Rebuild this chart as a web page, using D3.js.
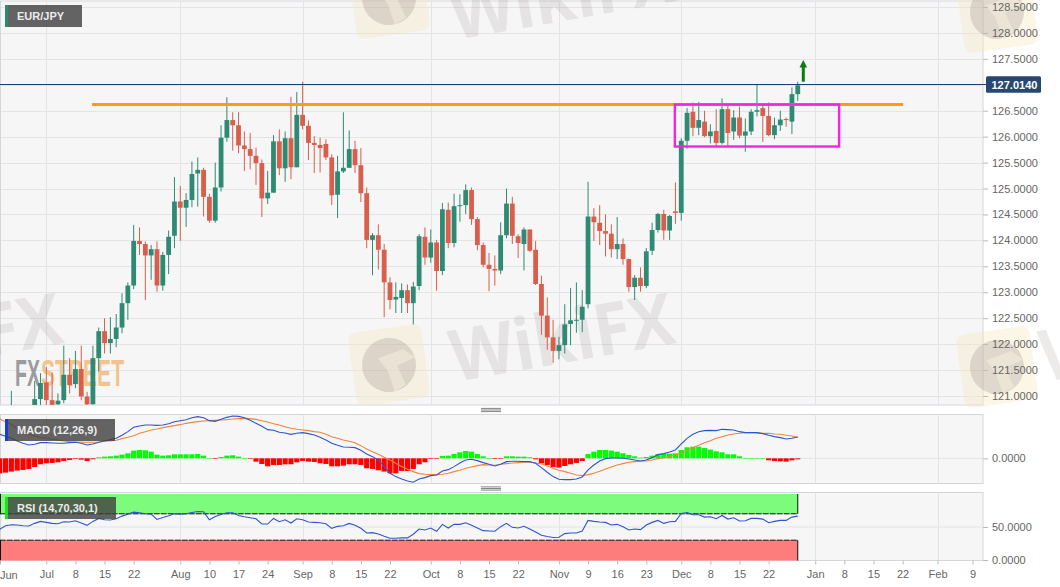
<!DOCTYPE html>
<html><head><meta charset="utf-8">
<script src="https://cdnjs.cloudflare.com/ajax/libs/d3/7.8.5/d3.min.js"></script>
<style>html,body{margin:0;padding:0;background:#fff}svg{display:block}text{font-family:"Liberation Sans",Arial,sans-serif}</style>
</head><body><svg id="c" width="1060" height="587"></svg>
<script>
// ---------- data (session index 0 = 1 Jul) ----------
const pair = "EUR/JPY";
const candleStart = -6;
const opens = [120.63,120.70,120.60,120.65,120.73,120.94,121.26,120.92,120.84,120.92,
121.41,121.23,121.52,120.99,120.84,121.73,122.25,122.02,122.10,122.32,
122.79,123.13,123.99,123.93,123.71,123.83,123.13,123.72,124.09,124.75,
124.63,124.78,125.29,125.36,124.84,124.38,125.02,125.98,126.32,126.22,
125.83,125.76,125.63,125.49,124.81,124.92,125.91,125.39,125.97,125.41,
126.42,126.21,125.88,125.84,125.86,125.60,124.88,125.33,125.40,125.76,
125.45,124.91,124.01,124.10,123.82,123.19,122.86,122.89,123.04,122.79,
123.12,124.07,123.67,123.96,123.41,124.59,123.95,124.66,124.68,124.97,
124.41,123.91,123.53,123.45,123.42,124.10,124.71,124.08,123.93,124.21,
123.82,123.16,122.55,122.13,121.87,121.98,122.39,122.45,122.47,122.77,
124.46,124.34,124.18,124.13,123.83,123.93,123.64,123.10,123.28,123.12,
123.80,124.20,124.51,124.19,124.56,124.53,125.92,126.48,126.17,126.29,
126.01,126.11,125.88,126.53,126.10,126.37,126.02,126.10,126.48,126.55,
126.40,126.03,126.22,126.34,126.29,126.82];
const highs = [121.10,120.80,120.78,120.75,121.29,121.44,121.56,121.45,121.05,121.97,
121.73,121.87,121.97,121.08,121.97,122.32,122.50,122.52,122.58,122.98,
123.19,124.30,124.25,123.98,123.91,123.98,123.78,124.19,125.22,125.05,
124.91,125.52,125.60,125.40,124.90,125.50,126.22,126.76,126.47,126.47,
126.10,126.07,125.79,125.56,125.34,126.03,126.14,126.10,126.77,126.86,
127.06,126.31,126.01,125.98,125.95,125.66,125.63,126.47,126.12,125.92,
125.78,125.02,124.14,124.31,123.93,123.29,123.19,123.17,123.15,123.20,
124.12,124.25,124.21,124.01,124.72,124.73,124.90,124.89,125.08,125.02,
124.45,123.96,123.76,123.71,124.35,125.00,124.84,124.12,124.25,124.21,
123.99,123.32,122.90,122.47,122.14,122.77,123.08,123.19,123.04,125.13,
124.62,124.68,124.50,124.31,124.45,124.04,123.65,123.33,123.48,123.85,
124.34,124.53,124.59,124.49,125.12,125.97,126.55,126.66,126.67,126.50,
126.24,126.53,126.74,126.60,126.51,126.58,126.35,126.53,127.01,126.61,
126.66,126.37,126.50,126.37,126.95,127.06];
const lows = [120.54,120.50,120.45,120.40,120.69,120.81,120.80,120.77,120.79,120.86,
121.05,121.15,120.92,120.81,120.84,121.47,121.82,121.82,121.94,122.21,
122.47,123.06,123.72,122.85,123.24,123.01,123.03,123.35,123.85,123.99,
124.26,124.64,124.65,124.46,124.34,124.34,124.94,125.90,125.73,125.68,
125.34,125.37,125.07,124.45,124.70,124.92,125.26,125.13,125.18,125.41,
126.14,125.55,125.30,125.31,125.55,124.68,124.43,125.30,125.40,125.30,
124.74,123.85,123.33,123.44,122.52,122.67,122.60,122.60,122.60,122.38,
123.04,123.53,123.57,123.03,123.33,123.85,123.87,124.36,124.51,124.30,
123.81,123.48,123.02,123.13,123.35,124.04,123.93,123.66,123.42,123.78,
123.14,122.18,121.89,121.64,121.71,121.82,121.98,122.22,122.23,122.69,
123.99,123.91,123.69,123.67,123.64,123.53,123.01,122.85,123.01,123.08,
123.72,124.15,124.01,124.01,124.32,124.38,125.77,126.01,126.03,125.99,
125.87,125.81,125.85,125.81,125.94,125.97,125.71,126.03,126.39,125.90,
126.01,125.95,126.11,126.19,126.05,126.69];
const closes = [120.77,120.60,120.70,120.72,120.94,121.25,120.92,120.83,120.91,121.41,
121.21,121.52,120.99,120.84,121.73,122.25,122.02,122.10,122.32,122.79,
123.13,123.99,123.93,123.71,123.83,123.13,123.72,124.07,124.75,124.63,
124.78,125.28,125.36,124.84,124.38,125.02,125.98,126.32,126.22,125.83,
125.76,125.63,125.49,124.81,124.92,125.91,125.39,125.97,125.41,126.42,
126.21,125.88,125.84,125.78,125.60,124.87,125.33,125.40,125.76,125.45,
124.91,124.01,124.10,123.82,123.19,122.85,122.91,123.04,122.79,123.11,
124.08,123.67,123.96,123.41,124.60,123.95,124.66,124.68,124.97,124.41,
123.91,123.53,123.45,123.42,124.10,124.71,124.09,123.95,124.21,123.80,
123.16,122.55,122.13,121.87,121.98,122.38,122.46,122.47,122.72,124.46,
124.35,124.18,124.13,123.83,123.93,123.64,123.10,123.28,123.12,123.79,
124.20,124.51,124.19,124.47,124.53,125.92,126.46,126.17,126.32,126.01,
126.10,125.88,126.53,126.07,126.37,126.02,126.10,126.48,126.51,126.40,
126.03,126.22,126.33,126.32,126.82,126.99];

const indicatorStart = -8;
const macdLine = [.72,.66,.60,.52,.45,.40,.42,.47,.47,.46,
.45,.45,.47,.48,.45,.40,.43,.48,.52,.56,
.60,.69,.80,.93,.97,1.00,1.00,.99,1.00,1.04,
1.10,1.13,1.16,1.22,1.25,1.22,1.13,1.11,1.17,1.23,
1.27,1.26,1.22,1.14,1.05,.96,.86,.84,.78,.76,
.72,.75,.77,.74,.70,.63,.55,.45,.39,.34,
.33,.32,.24,.13,.05,-.05,-.25,-.45,-.55,-.62,
-.68,-.72,-.62,-.58,-.52,-.50,-.38,-.34,-.25,-.14,
-.05,-.03,-.07,-.13,-.18,-.23,-.18,-.10,-.09,-.09,
-.10,-.10,-.15,-.28,-.42,-.55,-.63,-.64,-.64,-.62,
-.56,-.35,-.20,-.08,-.01,.01,.01,0,-.02,-.05,
-.08,-.05,.02,.11,.14,.19,.25,.43,.60,.72,
.80,.83,.84,.83,.87,.86,.85,.80,.77,.77,
.77,.74,.69,.65,.62,.58,.60,.64];
const signalLine = [1.18,1.10,1.02,.88,.80,.72,.67,.62,.60,.57,
.55,.52,.50,.49,.48,.48,.48,.49,.51,.52,
.54,.59,.63,.68,.75,.80,.85,.88,.92,.95,
.98,1.01,1.05,1.08,1.10,1.12,1.13,1.14,1.15,1.16,
1.18,1.19,1.20,1.19,1.17,1.13,1.09,1.04,1.00,.95,
.90,.87,.85,.83,.80,.78,.72,.65,.60,.55,
.51,.47,.38,.28,.20,.12,.03,-.05,-.15,-.25,
-.33,-.40,-.46,-.48,-.49,-.49,-.48,-.45,-.40,-.36,
-.30,-.26,-.22,-.19,-.20,-.21,-.18,-.16,-.14,-.13,
-.12,-.12,-.14,-.17,-.23,-.30,-.36,-.40,-.45,-.50,
-.52,-.49,-.45,-.39,-.32,-.26,-.20,-.16,-.12,-.10,
-.09,-.08,-.05,-.01,.02,.05,.10,.16,.23,.32,
.39,.47,.53,.60,.65,.70,.73,.75,.77,.77,
.76,.75,.75,.73,.72,.69,.67,.63];
const macdHist = [-.45,-.43,-.40,-.37,-.35,-.32,-.26,-.18,-.15,-.14,
-.12,-.08,-.05,-.02,-.04,-.08,-.03,.03,.05,.06,
.08,.11,.15,.23,.25,.24,.20,.11,.08,.09,
.12,.12,.12,.12,.13,.08,.01,-.01,.04,.08,
.09,.05,.01,-.01,-.10,-.17,-.24,-.20,-.20,-.18,
-.18,-.12,-.08,-.10,-.11,-.15,-.17,-.24,-.24,-.22,
-.18,-.18,-.20,-.30,-.32,-.36,-.40,-.45,-.45,-.38,
-.38,-.32,-.18,-.12,-.02,-.01,.07,.08,.13,.18,
.22,.20,.13,.06,.01,-.02,-.01,.06,.06,.05,
.05,.03,-.03,-.15,-.20,-.26,-.28,-.23,-.18,-.14,
-.08,.13,.20,.25,.25,.23,.20,.15,.10,.06,
.02,.04,.08,.13,.14,.14,.15,.25,.33,.35,
.35,.31,.26,.21,.18,.12,.12,.06,.01,.01,
.01,0,-.06,-.08,-.09,-.10,-.06,-.03];
const rsiLine = [46.5,52,53.5,53,52,51.5,55.5,58.5,57,55.5,
55,58,57.5,59.5,56,52.5,58.5,63,61,60.5,
62.5,66.5,69.5,72.5,71.5,70,69.5,61.5,64.5,67,
70,69.5,70,72,73.5,73,61,66,69,71.5,
71.5,67.5,65.5,64,62.5,54.5,54.5,63,58,61,
56,62.5,61,57.5,57,56.5,55,48,51,52,
55.5,52.5,48,41,41.5,39.5,36,33,33,33.5,
33.5,39,47,45.5,48.5,43.5,54,48.5,54,54,
56.5,52.5,48.5,44.5,44,43.5,50.5,55.5,49.5,48.5,
51,47,42.5,37.5,35.5,34,34.5,40,41,41,
44,60,58.5,57.5,57,53,54,50.5,45.5,47,
46,53,57,60,55.5,58,58.5,70.5,72,68.5,
68.5,65,65.5,62.5,67.5,62,64,59,59.5,63,
63,62,56.5,58.5,60,60,65,66.5];

const priceTicks = [121,121.5,122,122.5,123,123.5,124,124.5,125,125.5,126,126.5,127.5,128,128.5];
const lastPrice = 127.014;
const dateTickIndex = [0,5,10,15,23,28,33,38,44,49,54,59,66,71,76,81,88,93,98,103,109,114,119,124,132,137,142,147,153,159];
const dateTickLabel = ["Jul","8","15","22","Aug","10","17","24","Sep","8","15","22","Oct","8","15","22","Nov","9","16","23","Dec","8","15","22","Jan","8","15","22","Feb","9"];
const monthIndex = [0,23,44,66,88,109,132,153];
const resistance = {level:126.62, from:7.85, to:147.1};
const box = {top:126.62, bottom:125.81, from:107.9, to:136.1};
const arrow = {at:129.95, from:127.06, to:127.48};
const rsiBands = [70,30];

// ---------- scales ----------
const W=983;
const x=d3.scaleLinear().domain([-8,160.8]).range([-0.3,W]);
const y=d3.scaleLinear().domain([128.5,121]).range([7,396]);
const yM=d3.scaleLinear().domain([1,0]).range([425,458.3]);
const yR=d3.scaleLinear().domain([100,0]).range([494,560]);
const P={top:1,bot:405}, M={top:414.5,bot:483.5}, R={top:492.5,bot:560.5};

const svg=d3.select("#c");
const defs=svg.append("defs");
[["cp",P],["cm",M],["cr",R]].forEach(([id,p])=>defs.append("clipPath").attr("id",id).append("rect").attr("x",0).attr("y",p.top).attr("width",W).attr("height",p.bot-p.top));

// panels
[P,M,R].forEach(p=>svg.append("rect").attr("x",0.5).attr("y",p.top).attr("width",W-0.5).attr("height",p.bot-p.top).attr("fill","#f6f6f7").attr("stroke","#d4d6da").attr("stroke-width",1));

// grid
const grid=svg.append("g").attr("stroke","#e4e4e6").attr("stroke-width",1);
[P,M,R].forEach(p=>monthIndex.forEach(i=>grid.append("line").attr("x1",Math.round(x(i))+.5).attr("x2",Math.round(x(i))+.5).attr("y1",p.top).attr("y2",p.bot)));
priceTicks.concat([127]).forEach(v=>grid.append("line").attr("x1",1).attr("x2",W).attr("y1",Math.round(y(v))+.5).attr("y2",Math.round(y(v))+.5));
grid.append("line").attr("x1",1).attr("x2",W).attr("y1",yM(0)).attr("y2",yM(0));
grid.append("line").attr("x1",1).attr("x2",W).attr("y1",yR(50)).attr("y2",yR(50));

// watermarks
const wm=svg.append("g").attr("pointer-events","none");
[[455,382],[455,40],[-157,382],[1045,382]].forEach(([a,b])=>{
  wm.append("text").text("WikiFX").attr("transform",`translate(${a},${b}) rotate(-10)`)
   .attr("font-size",72).attr("font-weight",700).attr("textLength",226).attr("lengthAdjust","spacingAndGlyphs")
   .style("font-family","Open Sans,Liberation Sans").attr("fill","#8a7a78").attr("opacity",.15);
});
[[389,365],[997,367],[997,12],[389,-2]].forEach(([a,b])=>{
  const g=wm.append("g").attr("transform",`translate(${a},${b}) rotate(-8)`);
  g.append("rect").attr("x",-37).attr("y",-37).attr("width",74).attr("height",74).attr("rx",8).attr("fill","#f7e7bf").attr("opacity",.38);
  g.append("circle").attr("r",27).attr("fill","#8a7a78").attr("opacity",.24);
  g.append("path").attr("d","M-10,-8 L16,-14 L27,-4 L8,2 L14,22 L2,27 L-2,6Z").attr("fill","#f7f1df").attr("opacity",.5);
});
// FXStreet logo
const fxs=svg.append("g").attr("font-weight",700).style("font-family","Liberation Sans Narrow,Liberation Sans");
fxs.append("text").text("FX").attr("x",15).attr("y",386).attr("font-size",36).attr("textLength",25).attr("lengthAdjust","spacingAndGlyphs").attr("fill","#9b9b9e");
fxs.append("text").text("STREET").attr("x",41).attr("y",386).attr("font-size",36).attr("textLength",83).attr("lengthAdjust","spacingAndGlyphs").attr("fill","#f2c48c");

// candles
const candles=opens.map((o,k)=>({i:candleStart+k,o,h:highs[k],l:lows[k],c:closes[k]}));
const gc=svg.append("g").attr("clip-path","url(#cp)");
const GREEN="#2f8a74", RED="#d75f4b";
const sel=gc.selectAll("g").data(candles).join("g").attr("fill",d=>d.c>=d.o?GREEN:RED).attr("stroke",d=>d.c>=d.o?GREEN:RED);
sel.append("line").attr("x1",d=>x(d.i)).attr("x2",d=>x(d.i)).attr("y1",d=>y(d.h)).attr("y2",d=>y(d.l)).attr("stroke-width",1);
sel.append("rect").attr("x",d=>x(d.i)-2.4).attr("width",4.8).attr("stroke","none")
  .attr("y",d=>y(Math.max(d.o,d.c))).attr("height",d=>Math.max(1,Math.abs(y(d.o)-y(d.c))));

// annotations
const lastY=Math.floor(y(lastPrice))+.5;
svg.append("line").attr("x1",0).attr("x2",W+4).attr("y1",lastY).attr("y2",lastY).attr("stroke","#1f3f6b").attr("stroke-width",1);
svg.append("line").attr("x1",x(resistance.from)).attr("x2",x(resistance.to)).attr("y1",y(resistance.level)).attr("y2",y(resistance.level)).attr("stroke","#ff9d0c").attr("stroke-width",3);
svg.append("rect").attr("x",x(box.from)).attr("width",x(box.to)-x(box.from)).attr("y",y(box.top)).attr("height",y(box.bottom)-y(box.top)).attr("fill","none").attr("stroke","#f624dc").attr("stroke-width",2.4);
const ax=x(arrow.at), ay0=y(arrow.from), ay1=y(arrow.to);
svg.append("line").attr("x1",ax).attr("x2",ax).attr("y1",ay0).attr("y2",ay1+6).attr("stroke","#0a7d0a").attr("stroke-width",3);
svg.append("path").attr("d",d3.line()([[ax-3.8,ay1+7.5],[ax,ay1],[ax+3.8,ay1+7.5]])+"Z").attr("fill","#0a7d0a");

// MACD panel
const gm=svg.append("g").attr("clip-path","url(#cm)");
const hist=macdHist.map((v,k)=>({i:indicatorStart+k,v}));
gm.selectAll("rect").data(hist).join("rect").attr("x",d=>x(d.i)-2.6).attr("width",5.2)
  .attr("y",d=>Math.min(yM(d.v),yM(0))).attr("height",d=>Math.max(.6,Math.abs(yM(d.v)-yM(0))))
  .attr("fill",d=>d.v>=0?"#00ff00":"#ff0000");
const ln=sc=>d3.line().x((d,k)=>x(indicatorStart+k)).y(d=>sc(d));
gm.append("path").attr("d",ln(yM)(signalLine)).attr("fill","none").attr("stroke","#f0853a").attr("stroke-width",1.1);
gm.append("path").attr("d",ln(yM)(macdLine)).attr("fill","none").attr("stroke","#2e55d0").attr("stroke-width",1.1);

// RSI panel
const gr=svg.append("g").attr("clip-path","url(#cr)");
const rx0=x(indicatorStart), rx1=x(indicatorStart+rsiLine.length-1);
gr.append("rect").attr("x",rx0).attr("width",rx1-rx0).attr("y",yR(100)).attr("height",yR(rsiBands[0])-yR(100)).attr("fill","#7dfb7d");
gr.append("rect").attr("x",rx0).attr("width",rx1-rx0).attr("y",yR(rsiBands[1])).attr("height",yR(0)-yR(rsiBands[1])+1).attr("fill","#fd7c7c");
gr.append("path").attr("d",`M${rx1},${yR(100)}V${yR(70)}M${rx1},${yR(30)}V${yR(0)+1}M0.5,${yR(100)}V${yR(70)}M0.5,${yR(30)}V${yR(0)+1}`).attr("stroke","#111").attr("fill","none");
rsiBands.forEach(v=>gr.append("line").attr("x1",rx0).attr("x2",rx1).attr("y1",yR(v)).attr("y2",yR(v)).attr("stroke","#111").attr("stroke-width",1).attr("stroke-dasharray","6 1"));
gr.append("path").attr("d",ln(yR)(rsiLine)).attr("fill","none").attr("stroke","#2e55d0").attr("stroke-width",1.1);

// axes
function styleAxis(g){g.select(".domain").remove();g.selectAll("line").attr("stroke","#bbb");
  g.selectAll("text").attr("fill","#666").attr("font-size",11).style("font-family",'"Liberation Sans",Arial,sans-serif');}
svg.append("g").attr("transform",`translate(${W},0)`).call(d3.axisRight(y).tickValues(priceTicks).tickSize(5).tickPadding(4).tickFormat(d3.format(".4f"))).call(styleAxis);
svg.append("g").attr("transform",`translate(${W},0)`).call(d3.axisRight(yM).tickValues([0]).tickSize(5).tickPadding(4).tickFormat(d3.format(".4f"))).call(styleAxis);
svg.append("g").attr("transform",`translate(${W},0)`).call(d3.axisRight(yR).tickValues([50,0]).tickSize(5).tickPadding(4).tickFormat(d3.format(".4f"))).call(styleAxis);
const xa=svg.append("g").attr("transform",`translate(0,${R.bot})`).call(d3.axisBottom(x).tickValues(dateTickIndex).tickSize(4).tickPadding(6).tickFormat((d,k)=>dateTickLabel[k])).call(styleAxis);
svg.append("text").text("Jun").attr("x",0).attr("y",578.5).attr("fill","#666").attr("font-size",11);
svg.append("line").attr("x1",0.5).attr("x2",0.5).attr("y1",R.bot).attr("y2",R.bot+4).attr("stroke","#bbb");

// last-price tag
svg.append("rect").attr("x",986).attr("y",lastY-8.2).attr("width",55).attr("height",16.5).attr("rx",1.5).attr("fill","#28486f");
svg.append("text").text(d3.format(".4f")(lastPrice)).attr("x",991.5).attr("y",lastY+4).attr("fill","#fff").attr("font-size",11).attr("font-weight",700);

// panel captions
function cap(txt,x0,yy,w,col){
  svg.append("rect").attr("x",x0).attr("y",yy).attr("width",w).attr("height",22).attr("fill","#3e3e3e").attr("opacity",.8);
  svg.append("rect").attr("x",x0).attr("y",yy).attr("width",3).attr("height",22).attr("fill",col);
  svg.append("text").text(txt).attr("x",17).attr("y",yy+15).attr("fill","#ececec").attr("font-size",11).attr("font-weight",700);
}
cap(pair,5,5,77,"#2f8a74");
cap("MACD (12,26,9)",5,419,110,"#1140d8");
cap("RSI (14,70,30,1)",5,497,111,"#20e020");

// panel resize grips
[[410],[488.5]].forEach(([yy])=>[-1.6,0,1.6].forEach(d=>svg.append("line").attr("x1",481).attr("x2",501).attr("y1",yy+d).attr("y2",yy+d).attr("stroke","#666").attr("stroke-width",.8)));
</script></body></html>
